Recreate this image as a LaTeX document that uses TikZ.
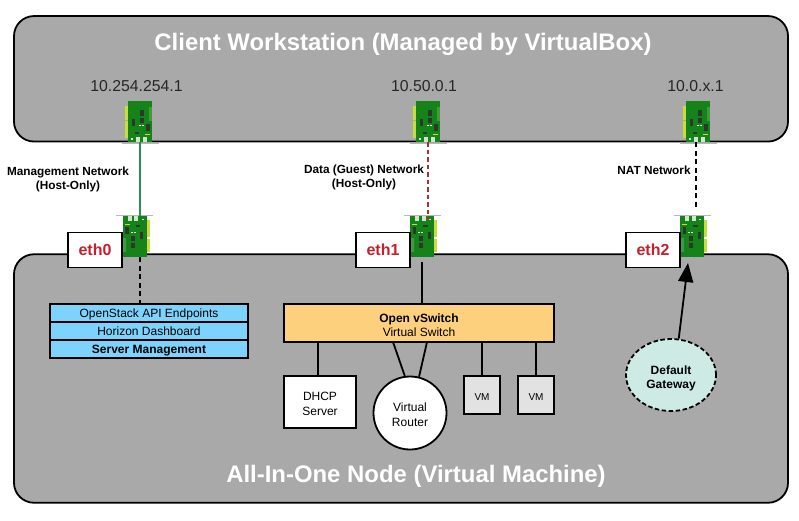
\documentclass[tikz,border=0pt]{standalone}
\usepackage{fontspec}
\setmainfont{Liberation Sans}
\usetikzlibrary{arrows.meta,shapes.geometric}
\definecolor{panelgrey}{HTML}{A9A9A9}
\definecolor{cardgreen}{HTML}{15831A}
\definecolor{cardlight}{HTML}{3F9A40}
\definecolor{cardyellow}{HTML}{C8DC3C}
\definecolor{chipdark}{HTML}{2A3A2A}
\definecolor{brackgrey}{HTML}{B8B8B8}
\definecolor{ethred}{HTML}{C4202E}
\definecolor{stackblue}{HTML}{7DD3FC}
\definecolor{switchorange}{HTML}{FDD07E}
\definecolor{vmgrey}{HTML}{E2E2E2}
\definecolor{gwteal}{HTML}{CDEAE5}
\definecolor{mgmtgreen}{HTML}{2E8B57}
\definecolor{datared}{HTML}{A83232}
\newcommand{\fsz}[1]{\fontsize{#1}{#1}\selectfont}
\newcommand{\lowertext}[1]{\rule{0pt}{#1}}
\tikzset{
  panel/.style={draw=black,line width=1.8pt,fill=panelgrey,rounded corners=20pt},
  paneltitle/.style={text=white,font=\fsz{23.9}\bfseries,inner sep=0pt},
  iplabel/.style={font=\fsz{15.8},text=black!85,inner sep=0pt},
  netlabel/.style={font=\fsz{11.8}\bfseries,align=center,inner sep=0pt},
  ethbox/.style={draw=black,line width=1.8pt,fill=white,minimum width=54pt,minimum height=35pt,inner sep=0pt,text=ethred,font=\fsz{16}\bfseries},
  stackrow/.style={draw=black,line width=1.8pt,fill=stackblue,minimum width=198pt,minimum height=18pt,inner sep=0pt,text height=10.5pt,text depth=2pt,font=\fsz{12}},
  whitebox/.style={draw=black,line width=1.8pt,fill=white,inner sep=0pt,align=center,font=\fsz{12}},
  vmbox/.style={draw=black,line width=1.8pt,fill=vmgrey,minimum width=36pt,minimum height=38pt,inner sep=0pt,text height=10.5pt,text depth=0pt,font=\fsz{10}},
  link/.style={line width=1.8pt,draw=black},
  dashlink/.style={line width=1.8pt,draw=black,dash pattern=on 5pt off 3.5pt},
  cardbody/.style={fill=cardgreen,draw=none,minimum width=24pt,minimum height=41pt,inner sep=0pt},
  pics/nic/.style={code={
    % origin = centre of the card; bracket side is +y (y axis points down the page)
    \fill[cardyellow] (-15,-15.5) rectangle (-12,-2);
    \fill[cardyellow] (-15,-0.5) rectangle (-12,16.5);
    \draw[brackgrey,line width=0.8pt] (-18.5,21.4) -- (18.5,21.4);
    \node[cardbody] (card) at (0,0) {};
    \fill[cardlight] (8.5,-15) rectangle (12,-1);
    \fill[chipdark] (-0.5,-11.5) rectangle (3.5,-6);
    \fill[chipdark] (-0.5,-4) rectangle (3.5,1);
    \fill[chipdark] (-8.5,-2.5) rectangle (-5.5,4.5);
    \fill[chipdark] (6,2.5) rectangle (9.5,9.5);
    \fill[chipdark] (-5.5,10) rectangle (-1,12);
    \fill[white!85!cardgreen] (-1,3.5) rectangle (1,4.5);
    \fill[white!85!cardgreen] (2,3.5) rectangle (4,4.5);
    \fill[white!80!cardgreen] (-3.7,15.8) rectangle (0.3,20.5);
    \fill[white!80!cardgreen] (3,15.8) rectangle (7,20.5);
    \fill[white!80!cardgreen] (-9,16.5) rectangle (-7,18);
    \fill[cardyellow] (5,12) rectangle (10,12.8);
  }}
}
\begin{document}
\begin{tikzpicture}[x=1pt,y=-1pt]
\useasboundingbox (0,0) rectangle (799,520);
\fill[white] (0,0) rectangle (799,520);
% panels
\node[panel,minimum width=774pt,minimum height=125.5pt,inner sep=0pt] (client) at (401,78.8) {};
\node[panel,minimum width=774pt,minimum height=248.5pt,inner sep=0pt] (aio) at (401,378.5) {};
\node[paneltitle] (clienttitle) at (403,44) {Client Workstation (Managed by VirtualBox)};
\node[paneltitle] (aiotitle) at (416,476) {All-In-One Node (Virtual Machine)};
% addresses
\node[iplabel] (ip0) at (136.5,86) {10.254.254.1};
\node[iplabel] (ip1) at (424,86) {10.50.0.1};
\node[iplabel] (ip2) at (695.5,86) {10.0.x.1};
% cards
\pic (tz) at (140,121.5) {nic};
\pic (to) at (428,121.5) {nic};
\pic (tt) at (698,121.5) {nic};
\pic[rotate=180] (bz) at (134.5,236.5) {nic};
\pic[rotate=180] (bo) at (422,236.5) {nic};
\pic[rotate=180] (bt) at (692,236.5) {nic};
% eth labels
\node[ethbox] (eth0) at (95,250) {eth0};
\node[ethbox] (eth1) at (383,250) {eth1};
\node[ethbox] (eth2) at (653,250) {eth2};
% network labels
\node[netlabel] (netm) at (68,179.5) {Management Network\\[3pt](Host-Only)};
\node[netlabel] (netd) at (364,177.5) {Data (Guest) Network\\[3pt](Host-Only)};
\node[netlabel] (netn) at (654,170) {NAT Network};
% stack
\node[stackrow] (stacka) at (149,313) {OpenStack API Endpoints};
\node[stackrow] (stackb) at (149,331) {Horizon Dashboard};
\node[stackrow,font=\fsz{12}\bfseries] (stackc) at (149,349) {Server Management};
% switch and attached
\node[draw=black,line width=1.8pt,fill=switchorange,minimum width=270pt,minimum height=38pt,inner sep=0pt,align=center,font=\fsz{12}] (ovs) at (419,323) {\lowertext{13pt}{\bfseries Open vSwitch}\\[2.5pt]Virtual Switch};
\node[whitebox,minimum width=72pt,minimum height=52pt] (dhcp) at (320,402) {\lowertext{13pt}DHCP\\[3pt]Server};
\node[whitebox,circle,minimum size=73pt] (router) at (410,413) {\lowertext{13pt}Virtual\\[3pt]Router};
\node[vmbox] (vma) at (482,395) {VM};
\node[vmbox] (vmb) at (536,395) {VM};
\node[draw=black,line width=1.8pt,dash pattern=on 4.5pt off 2.5pt,fill=gwteal,ellipse,minimum width=90pt,minimum height=72pt,inner sep=0pt,align=center,font=\fsz{12}\bfseries] (gw) at (671,375) {\lowertext{15pt}Default\\[2.5pt]Gateway};
% connectors
\coordinate (gwtip) at (688,263);
\draw[line width=1.8pt,draw=mgmtgreen] (tzcard.south) -- (tzcard.south |- bzcard.north);
\draw[line width=1.8pt,draw=datared,dash pattern=on 4.5pt off 3pt] (tocard.south) -- ([yshift=-4pt]tocard.south |- bocard.north);
\draw[dashlink] ([xshift=-2pt]ttcard.south) -- ([xshift=-2pt,yshift=6pt]ttcard.south |- btcard.north);
\draw[dashlink] (tzcard.south |- bzcard.south) -- (tzcard.south |- stacka.north);
\draw[link,shorten <=5pt] (bocard.south) -- (bocard.south |- ovs.north);
\draw[link] ([xshift=-2pt]ovs.south -| dhcp.north) -- ([xshift=-2pt]dhcp.north);
\coordinate (ovsra) at (393,342);
\coordinate (ovsrb) at (427,342);
\draw[link] (ovsra) -- (router.98);
\draw[link] (ovsrb) -- (router.76);
\draw[link] (ovs.south -| vma.north) -- (vma.north);
\draw[link] (ovs.south -| vmb.north) -- (vmb.north);
\draw[line width=1.8pt,-{Triangle[length=19pt,width=15pt]}] (gw.78) -- (gwtip);
\end{tikzpicture}
\end{document}
